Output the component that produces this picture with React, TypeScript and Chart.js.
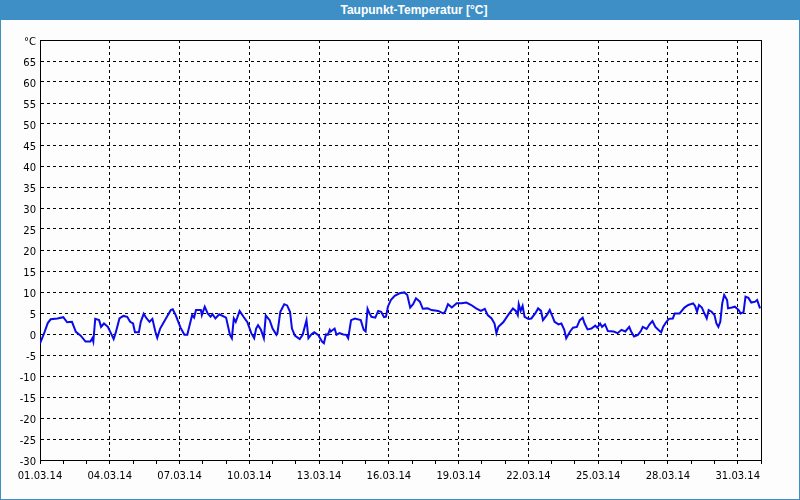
import React, { useEffect, useRef } from 'react';
import { Chart, registerables } from 'chart.js';

Chart.register(...registerables);

const TITLE = 'Taupunkt-Temperatur [°C]';
const Y_UNIT = '°C';

// hours since 01.03.14 00:00
const hours = [
  0, 4, 8, 11, 18, 24, 28, 33, 37, 42, 47, 52, 54, 55, 57, 61, 63, 66, 70, 74, 76, 78, 82, 86, 90, 93, 96, 98,
  102, 104, 107, 110, 113, 116, 119, 121, 124, 128, 135, 137, 140, 145, 149, 152, 154, 157, 159, 161, 166, 167,
  170, 173, 176, 178, 181, 185,
  192, 196, 198, 200, 202, 206, 210, 214, 218, 221, 223, 225, 228, 231, 233, 237, 240, 244, 245, 248, 252, 255,
  258, 260, 263, 268, 271, 275, 277, 280, 283, 287, 291, 293, 295, 297, 299, 300, 304, 306, 309, 313, 316, 318,
  321, 325, 331, 334, 336, 338, 340, 342, 346, 349, 352, 355, 357, 359, 362, 366, 371,
  376, 379, 382, 385, 388, 392, 395, 400, 404, 411, 416, 418, 421, 425, 430, 435, 440, 445, 450, 455, 459, 462,
  466, 469, 471, 473, 478, 483, 488, 491, 493, 494, 496, 498, 500, 504, 507, 511, 514, 517, 519, 523, 526, 529,
  531, 535, 538, 541, 543, 547, 550, 554, 557,
  560, 562, 565, 569, 573, 575, 578, 580, 583, 586, 592, 596, 600, 604, 608, 610, 613, 617, 620, 622, 626, 629,
  632, 635, 638, 641, 643, 646, 649, 653, 655, 660, 665, 669, 674, 676, 678, 680, 683, 685, 688, 690, 693, 696,
  698, 700, 702, 704, 706, 709, 710, 714, 717, 721, 723, 726, 728, 731, 734, 738, 740, 743,
];

const dewPoint = [
  -2.2, 0, 2.6, 3.5, 3.7, 4.0, 2.8, 2.9, 0.5, -0.4, -1.8, -1.8, -1.0, -1.8, 3.6, 3.3, 1.7, 2.5, 1.7, -0.2, -1.2, 0.2, 3.7, 4.3, 4.1, 2.9, 2.5, 0.4,
  0.4, 2.9, 4.8, 3.7, 2.9, 3.6, 0.6, -0.9, 1.3, 2.9, 5.7, 5.9, 4.5, 1.5, -0.2, -0.2, 1.7, 4.5, 3.9, 5.7, 5.7, 4.5,
  6.5, 4.9, 4.1, 4.7, 3.7, 4.7,
  3.9, -0.2, -1.0, 3.7, 2.9, 5.5, 4.1, 2.8, 0.2, -1.0, 1.3, 2.1, 1.0, -1.0, 4.4, 3.3, 1.3, -0.2, 0.2, 5.3, 7.1, 6.8,
  5.3, 1.3, -0.4, -1.2, -0.2, 3.3, -1.0, -0.1, 0.4, -0.2, -1.8, -2.2, -0.1, -0.2, 1.0, 0.6, 1.3, -0.2, 0.2, -0.1, -0.2, -1.0,
  3.3, 3.7, 3.3, 1.0, 0.6, 6.0, 4.9, 4.1, 3.9, 5.5, 5.3, 4.0, 4.1, 6.5, 8.1, 9.1, 9.7,
  9.9, 9.3, 6.3, 7.1, 8.5, 7.7, 6.0, 6.1, 5.7, 5.5, 4.9, 5.3, 7.1, 6.3, 7.3, 7.3, 7.5, 6.9, 6.1, 5.5, 6.0, 4.5,
  3.7, 2.5, 0.2, 1.7, 2.8, 4.5, 6.1, 5.5, 4.5, 7.1, 5.5, 6.7, 4.1, 3.6, 3.7, 4.9, 6.1, 5.5, 3.3, 4.5, 5.7, 4.1,
  2.9, 2.3, 2.5, 1.0, -1.0, 0.6, 1.5, 1.7, 3.3,
  3.9, 2.5, 1.1, 1.3, 2.0, 1.5, 2.5, 1.7, 2.3, 0.7, 0.6, 0.2, 1.0, 0.6, 1.7, 0.6, -0.6, -0.2, 0.7, 1.7, 1.2, 2.3,
  3.1, 1.7, 1.0, 0.4, 1.7, 2.8, 3.6, 3.7, 4.9, 4.9, 6.3, 6.9, 7.3, 6.7, 5.3, 6.9, 6.3, 5.2, 3.7, 5.7, 5.3, 4.5,
  2.5, 1.7, 2.9, 7.3, 9.3, 8.1, 6.1, 6.3, 6.5, 5.7, 4.9, 5.2, 8.9, 8.6, 7.5, 7.7, 8.1, 6.1,
];

const dateLabels = [
  '01.03.14', '04.03.14', '07.03.14', '10.03.14', '13.03.14', '16.03.14',
  '19.03.14', '22.03.14', '25.03.14', '28.03.14', '31.03.14',
];

const X_MAX_HOURS = 744;
const Y_MIN = -30;
const Y_MAX = 70;

export default function App() {
  const ref = useRef<HTMLCanvasElement>(null);

  useEffect(() => {
    if (!ref.current) return;
    Chart.defaults.font.family = '"DejaVu Sans", Verdana, sans-serif';
    Chart.defaults.font.size = 10;
    Chart.defaults.color = '#000';

    const frame = {
      id: 'frame',
      afterDraw(c: any) {
        const { ctx, chartArea: a } = c;
        ctx.save();
        ctx.strokeStyle = '#000';
        ctx.lineWidth = 1;
        ctx.setLineDash([]);
        ctx.beginPath();
        ctx.moveTo(Math.round(a.left), Math.round(a.top) + 0.5);
        ctx.lineTo(Math.round(a.right) + 1, Math.round(a.top) + 0.5);
        ctx.moveTo(Math.round(a.right) + 0.5, Math.round(a.top));
        ctx.lineTo(Math.round(a.right) + 0.5, Math.round(a.bottom));
        ctx.stroke();
        ctx.restore();
      },
    };

    const chart = new Chart(ref.current, {
      type: 'line',
      data: {
        datasets: [
          {
            data: hours.map((h, i) => ({ x: h, y: dewPoint[i] })),
            borderColor: '#0a0aea',
            borderWidth: 2,
            pointRadius: 0,
            tension: 0,
            fill: false,
          },
        ],
      },
      options: {
        responsive: false,
        animation: false,
        layout: { padding: { top: 20, right: 39, left: 0, bottom: 0 } },
        plugins: { legend: { display: false }, tooltip: { enabled: false }, title: { display: false } },
        scales: {
          x: {
            type: 'linear',
            min: 0,
            max: X_MAX_HOURS,
            afterFit: (s: any) => {
              s.height = 40;
            },
            ticks: {
              stepSize: 24,
              autoSkip: false,
              maxRotation: 0,
              padding: 6,
              color: '#000',
              callback: (v: any) => (Number(v) % 72 === 0 ? dateLabels[Number(v) / 72] : ''),
            },
            grid: {
              color: (ctx: any) => {
                const v = ctx.tick ? ctx.tick.value : 0;
                return v > 0 && v % 72 === 0 ? '#000' : 'rgba(0,0,0,0)';
              },
              tickColor: '#000',
              tickLength: 4,
              lineWidth: 1,
            },
            border: { color: '#000', width: 1, dash: [3, 3] },
          },
          y: {
            min: Y_MIN,
            max: Y_MAX,
            afterFit: (s: any) => {
              s.width = 40;
            },
            ticks: {
              stepSize: 5,
              padding: 4,
              labelOffset: 2,
              color: '#000',
              callback: (v: any) => (Number(v) === Y_MAX ? Y_UNIT : String(v)),
            },
            grid: {
              color: (ctx: any) => {
                const v = ctx.tick ? ctx.tick.value : Y_MIN;
                return v > Y_MIN && v < Y_MAX ? '#000' : 'rgba(0,0,0,0)';
              },
              drawTicks: false,
              lineWidth: 1,
            },
            border: { color: '#000', width: 1, dash: [3, 3] },
          },
        },
      },
      plugins: [frame],
    } as any);

    return () => chart.destroy();
  }, []);

  return (
    <div
      style={{
        position: 'fixed',
        left: 0,
        top: 0,
        width: 800,
        height: 500,
        background: '#3d8fc6',
        overflow: 'hidden',
      }}
    >
      <div
        style={{
          position: 'absolute',
          left: 0,
          top: 0,
          width: 800,
          height: 20,
          lineHeight: '20px',
          textAlign: 'center',
          color: '#fff',
          fontFamily: '"Liberation Sans", Arial, sans-serif',
          fontWeight: 'bold',
          fontSize: 12,
          paddingLeft: 28,
          boxSizing: 'border-box',
        }}
      >
        {TITLE}
      </div>
      <div
        style={{
          position: 'absolute',
          left: 1,
          top: 20,
          width: 798,
          height: 479,
          background: '#fcfdfc',
        }}
      />
      <canvas
        ref={ref}
        width={800}
        height={480}
        style={{ position: 'absolute', left: 0, top: 20, width: 800, height: 480 }}
      />
    </div>
  );
}
